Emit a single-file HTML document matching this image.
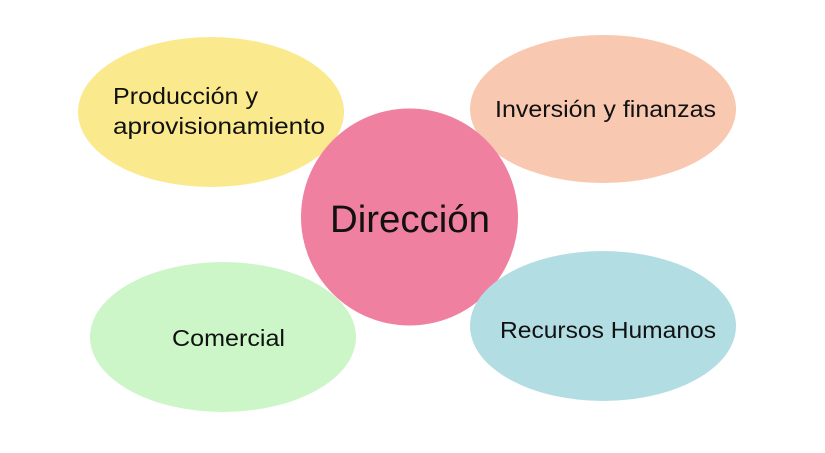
<!DOCTYPE html>
<html><head><meta charset="utf-8"><style>
html,body{margin:0;padding:0;background:#fff;}
svg text{font-family:"Liberation Sans",sans-serif;fill:#111;}
</style></head><body>
<svg width="825" height="448" viewBox="0 0 825 448" xmlns="http://www.w3.org/2000/svg">
<ellipse cx="211" cy="112" rx="133" ry="75" fill="#fbe98e"/>
<ellipse cx="603" cy="109" rx="133" ry="74" fill="#f8c8b0"/>
<ellipse cx="223" cy="337" rx="133" ry="75" fill="#ccf5c8"/>
<circle cx="409.5" cy="217" r="108.5" fill="#f080a0"/>
<ellipse cx="603" cy="326" rx="133" ry="75" fill="#b2dde3"/>
<text x="113" y="104" font-size="23" textLength="145" lengthAdjust="spacingAndGlyphs">Producción y</text>
<text x="113" y="134" font-size="23" textLength="212" lengthAdjust="spacingAndGlyphs">aprovisionamiento</text>
<text x="495" y="117" font-size="23" textLength="221" lengthAdjust="spacingAndGlyphs">Inversión y finanzas</text>
<text x="172" y="346" font-size="23" textLength="113" lengthAdjust="spacingAndGlyphs">Comercial</text>
<text x="500" y="338" font-size="23" textLength="216" lengthAdjust="spacingAndGlyphs">Recursos Humanos</text>
<text x="330" y="232" font-size="38" textLength="160" lengthAdjust="spacingAndGlyphs">Dirección</text>
</svg>
</body></html>
